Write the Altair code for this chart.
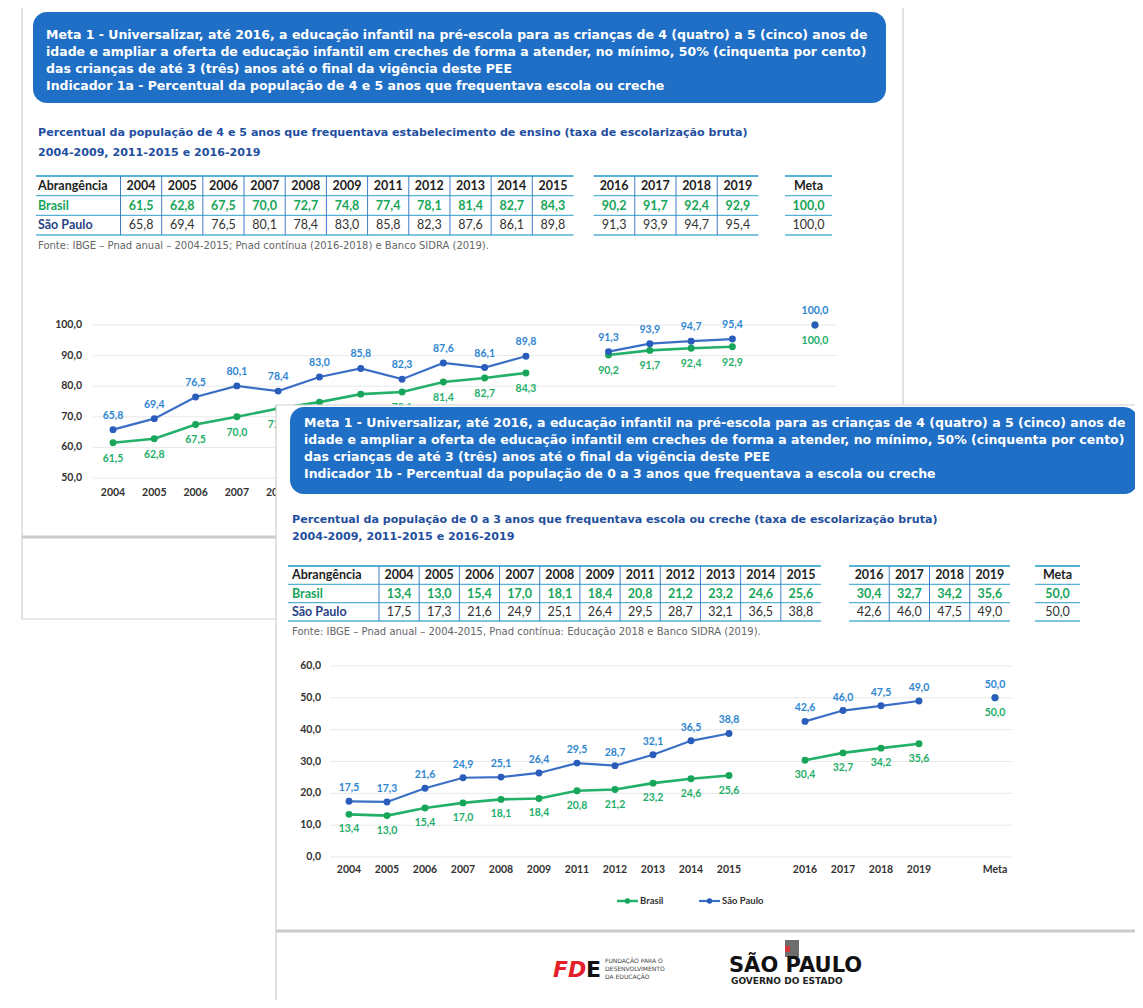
import altair as alt
import pandas as pd

# ---------------- data ----------------
YEARS_A = ["2004", "2005", "2006", "2007", "2008", "2009", "2011", "2012", "2013", "2014", "2015"]
YEARS_B = ["2016", "2017", "2018", "2019"]
META_LABEL = "Meta"
ROWS = ["Abrangência", "Brasil", "São Paulo"]

BRASIL_1A = [61.5, 62.8, 67.5, 70.0, 72.7, 74.8, 77.4, 78.1, 81.4, 82.7, 84.3, 90.2, 91.7, 92.4, 92.9]
SP_1A = [65.8, 69.4, 76.5, 80.1, 78.4, 83.0, 85.8, 82.3, 87.6, 86.1, 89.8, 91.3, 93.9, 94.7, 95.4]
META_1A = [100.0, 100.0]
TICKS_1A = [50, 60, 70, 80, 90, 100]

BRASIL_1B = [13.4, 13.0, 15.4, 17.0, 18.1, 18.4, 20.8, 21.2, 23.2, 24.6, 25.6, 30.4, 32.7, 34.2, 35.6]
SP_1B = [17.5, 17.3, 21.6, 24.9, 25.1, 26.4, 29.5, 28.7, 32.1, 36.5, 38.8, 42.6, 46.0, 47.5, 49.0]
META_1B = [50.0, 50.0]
TICKS_1B = [0, 10, 20, 30, 40, 50, 60]

HEAD_COMMON = [
    "Meta 1 - Universalizar, até 2016, a educação infantil na pré-escola para as crianças de 4 (quatro) a 5 (cinco) anos de",
    "idade e ampliar a oferta de educação infantil em creches de forma a atender, no mínimo, 50% (cinquenta por cento)",
    "das crianças de até 3 (três) anos até o final da vigência deste PEE",
]
HEAD_1A = "Indicador 1a - Percentual da população de 4 e 5 anos que frequentava escola ou creche"
HEAD_1B = "Indicador 1b - Percentual da população de 0 a 3 anos que frequentava a escola ou creche"
SUB_1A = "Percentual da população de 4 e 5 anos que frequentava estabelecimento de ensino (taxa de escolarização bruta)"
SUB_1B = "Percentual da população de 0 a 3 anos que frequentava escola ou creche (taxa de escolarização bruta)"
SUB_PERIOD = "2004-2009, 2011-2015 e 2016-2019"
FONTE_1A = "Fonte: IBGE – Pnad anual – 2004-2015; Pnad contínua (2016-2018) e Banco SIDRA (2019)."
FONTE_1B = "Fonte: IBGE – Pnad anual – 2004-2015, Pnad contínua: Educação 2018 e Banco SIDRA (2019)."

# ---------------- style ----------------
W, H = 1127, 992
HEAD_BLUE = "#1f6fc6"
TITLE_BLUE = "#1f4f9e"
GREEN_LINE = "#22b06a"
GREEN_PT = "#17a55a"
GREEN_TXT = "#1fae6a"
BLUE_LINE = "#3b6fc5"
BLUE_PT = "#2a5cbc"
BLUE_TXT = "#2f86d1"
FRAME = "#cfcfcf"
TBL_H = "#56b1d6"
TBL_V = "#3f7fc8"
F_HEAD = "DejaVu Sans"
F_TBL = "Lato"

ONE = pd.DataFrame({"k": [0]})


def px(x):
    return x - 8


def py(y):
    return y - 8


def fmt(v):
    return f"{v:.1f}".replace(".", ",")


def box(x0, y0, x1, y1, fill="white", stroke=None, sw=1, r=0):
    kw = dict(fill=fill, cornerRadius=r)
    if stroke:
        kw.update(stroke=stroke, strokeWidth=sw)
    return alt.Chart(ONE).mark_rect(**kw).encode(
        x=alt.value(px(x0)), x2=alt.value(px(x1)), y=alt.value(py(y0)), y2=alt.value(py(y1)))


def hline(x0, x1, y, color, sw=1):
    return alt.Chart(ONE).mark_rule(color=color, strokeWidth=sw).encode(
        x=alt.value(px(x0)), x2=alt.value(px(x1)), y=alt.value(py(y)))


def txt(s, x, y, size=12, color="#222", weight="normal", align="left", font=F_HEAD, style="normal"):
    return alt.Chart(ONE).mark_text(
        text=s, align=align, baseline="middle", fontSize=size, color=color,
        fontWeight=weight, font=font, fontStyle=style).encode(x=alt.value(px(x)), y=alt.value(py(y)))


def header(x0, y0, x1, y1, tx, ty, lines, size=12.5):
    layers = [box(x0, y0, x1, y1, fill=HEAD_BLUE, r=14)]
    for i, s in enumerate(lines):
        layers.append(txt(s, tx, ty + i * 17, size=size, color="white", weight="bold"))
    return layers


def table(years, br, sp, x0, x1, ytop, ybot, first_sep, label_col=None, size=12.5):
    xs = alt.Scale(type="band", domain=years, range=[px(x0), px(x1)], paddingInner=0, paddingOuter=0)
    ys = alt.Scale(type="band", domain=ROWS, range=[py(ytop), py(ybot)], paddingInner=0, paddingOuter=0)
    X = alt.X("col:O", scale=xs, axis=None)
    Y = alt.Y("row:O", scale=ys, axis=None)
    hdr = pd.DataFrame({"col": years, "row": ROWS[0], "t": years})
    dbr = pd.DataFrame({"col": years, "row": ROWS[1], "t": [fmt(v) for v in br]})
    dsp = pd.DataFrame({"col": years, "row": ROWS[2], "t": [fmt(v) for v in sp]})
    layers = []
    lx0 = label_col[0] if label_col else x0
    rh = (ybot - ytop) / 3
    for i, yy in enumerate([ytop, ytop + rh, ytop + 2 * rh, ybot]):
        layers.append(hline(lx0, x1, yy, TBL_H, 2 if i == 0 else 1.4))
    seps = years if first_sep else years[1:]
    if len(seps) > 0:
        layers.append(alt.Chart(pd.DataFrame({"col": seps})).mark_rule(color=TBL_V, strokeWidth=1).encode(
            x=alt.X("col:O", scale=xs, axis=None, bandPosition=0),
            y=alt.value(py(ytop)), y2=alt.value(py(ybot))))
    layers.append(alt.Chart(hdr).mark_text(font=F_TBL, fontSize=size, fontWeight="bold", color="#1e1e1e",
                                            baseline="middle").encode(x=X, y=Y, text="t:N"))
    layers.append(alt.Chart(dbr).mark_text(font=F_TBL, fontSize=size, fontWeight="bold", color=GREEN_PT,
                                            baseline="middle").encode(x=X, y=Y, text="t:N"))
    layers.append(alt.Chart(dsp).mark_text(font=F_TBL, fontSize=size, color="#333333",
                                            baseline="middle").encode(x=X, y=Y, text="t:N"))
    if label_col:
        lab = pd.DataFrame({"row": ROWS})
        colors = ["#1e1e1e", GREEN_PT, "#2a4386"]
        for r, c in zip(ROWS, colors):
            layers.append(alt.Chart(lab[lab.row == r]).mark_text(
                font=F_TBL, fontSize=size, fontWeight="bold", color=c, align="left", baseline="middle").encode(
                x=alt.value(px(label_col[1])), y=Y, text="row:N"))
    return layers


def line_chart(br, sp, meta, ticks, x_first, x_last, y_lo, y_hi, grid_x0, grid_x1, ylab_x, xlab_y, dlab=14):
    xdom = YEARS_A + [" "] + YEARS_B + ["  ", META_LABEL]
    xs = alt.Scale(type="point", domain=xdom, range=[px(x_first), px(x_last)], padding=0)
    ys = alt.Scale(type="linear", domain=[ticks[0], ticks[-1]], range=[py(y_lo), py(y_hi)], zero=False, nice=False)
    cats = YEARS_A + YEARS_B
    seg = ["a"] * len(YEARS_A) + ["b"] * len(YEARS_B)
    dbr = pd.DataFrame({"cat": cats + [META_LABEL], "v": br + [meta[0]], "seg": seg + ["m"]})
    dsp = pd.DataFrame({"cat": cats + [META_LABEL], "v": sp + [meta[1]], "seg": seg + ["m"]})
    for d in (dbr, dsp):
        d["lab"] = [fmt(v) for v in d["v"]]
    dt = pd.DataFrame({"t": ticks, "lab": [fmt(t) for t in ticks]})
    dc = pd.DataFrame({"cat": cats + [META_LABEL]})
    X = alt.X("cat:O", scale=xs, axis=None)
    Y = alt.Y("v:Q", scale=ys, axis=None)
    YT = alt.Y("t:Q", scale=ys, axis=None)
    layers = [
        alt.Chart(dt).mark_rule(color="#e9e9e9", strokeWidth=1).encode(
            y=YT, x=alt.value(px(grid_x0)), x2=alt.value(px(grid_x1))),
        alt.Chart(dt).mark_text(align="right", baseline="middle", font=F_TBL, fontSize=10.5, fontWeight="bold",
                                color="#333333").encode(y=YT, x=alt.value(px(ylab_x)), text="lab:N"),
        alt.Chart(dc).mark_text(align="center", baseline="middle", font=F_TBL, fontSize=10.5, fontWeight="bold",
                                color="#333333").encode(x=X, y=alt.value(py(xlab_y)), text="cat:N"),
        alt.Chart(dbr[dbr.seg != "m"]).mark_line(color=GREEN_LINE, strokeWidth=2.6).encode(x=X, y=Y, detail="seg:N"),
        alt.Chart(dsp[dsp.seg != "m"]).mark_line(color=BLUE_LINE, strokeWidth=2.2).encode(x=X, y=Y, detail="seg:N"),
        alt.Chart(dbr).mark_circle(size=48, color=GREEN_PT, opacity=1).encode(x=X, y=Y),
        alt.Chart(dsp).mark_circle(size=48, color=BLUE_PT, opacity=1).encode(x=X, y=Y),
        alt.Chart(dbr).mark_text(dy=dlab + 2, font=F_TBL, fontSize=10.5, fontWeight="bold", color=GREEN_TXT).encode(
            x=X, y=Y, text="lab:N"),
        alt.Chart(dsp).mark_text(dy=-dlab, font=F_TBL, fontSize=10.5, fontWeight="bold", color=BLUE_TXT).encode(
            x=X, y=Y, text="lab:N"),
    ]
    return layers


layers = []

# ---------------- slide 1 ----------------
layers.append(box(22, 6, 903, 619, fill="white", stroke=FRAME, sw=1.2))
layers.append(hline(22, 903, 537, "#cccccc", 3))
layers += header(33, 12, 886, 103, 46, 35, HEAD_COMMON + [HEAD_1A])
layers.append(txt(SUB_1A, 38, 133, size=11.1, color=TITLE_BLUE, weight="bold"))
layers.append(txt(SUB_PERIOD, 38, 153, size=11.1, color=TITLE_BLUE, weight="bold"))
n_a = len(YEARS_A)
layers += table(YEARS_A, BRASIL_1A[:n_a], SP_1A[:n_a], 120.5, 573.5, 176, 235, True, label_col=(36, 38))
layers += table(YEARS_B, BRASIL_1A[n_a:], SP_1A[n_a:], 593.5, 758.5, 176, 235, False)
layers += table([META_LABEL], META_1A[:1], META_1A[1:], 785, 832, 176, 235, False)
layers.append(txt(FONTE_1A, 38, 246, size=10, color="#666666"))
layers += line_chart(BRASIL_1A, SP_1A, META_1A, TICKS_1A, 113, 815, 478, 325, 93, 837, 82, 493, dlab=14)

# ---------------- slide 2 ----------------
layers.append(box(276, 405, 1160, 1020, fill="white", stroke=FRAME, sw=1.2))
layers.append(hline(276, 1143, 931, "#cccccc", 3))
layers += header(290, 407, 1138, 494, 304, 423, HEAD_COMMON + [HEAD_1B])
layers.append(txt(SUB_1B, 292, 520, size=11.1, color=TITLE_BLUE, weight="bold"))
layers.append(txt(SUB_PERIOD, 292, 537, size=11.1, color=TITLE_BLUE, weight="bold"))
layers += table(YEARS_A, BRASIL_1B[:n_a], SP_1B[:n_a], 379, 821, 566, 621, True, label_col=(288, 292))
layers += table(YEARS_B, BRASIL_1B[n_a:], SP_1B[n_a:], 849, 1010, 566, 621, False)
layers += table([META_LABEL], META_1B[:1], META_1B[1:], 1035, 1080, 566, 621, False)
layers.append(txt(FONTE_1B, 292, 632, size=10, color="#666666"))
layers += line_chart(BRASIL_1B, SP_1B, META_1B, TICKS_1B, 349, 995, 857, 666, 330, 1012, 321, 870, dlab=13)

# legend
layers.append(hline(617, 638, 901, GREEN_LINE, 2.5))
layers.append(alt.Chart(ONE).mark_circle(size=30, color=GREEN_PT, opacity=1).encode(
    x=alt.value(px(627.5)), y=alt.value(py(901))))
layers.append(txt("Brasil", 640, 901, size=9.5, color="#333333", weight="bold", font=F_TBL))
layers.append(hline(699, 720, 901, BLUE_LINE, 2.2))
layers.append(alt.Chart(ONE).mark_circle(size=30, color=BLUE_PT, opacity=1).encode(
    x=alt.value(px(709.5)), y=alt.value(py(901))))
layers.append(txt("São Paulo", 722, 901, size=9.5, color="#333333", weight="bold", font=F_TBL))

# footer logos
layers.append(txt("FD", 553, 970, size=22, color="#e3202a", weight="bold", font="DejaVu Sans", style="italic"))
layers.append(txt("E", 586, 970, size=22, color="#111111", weight="bold", font="DejaVu Sans"))
layers.append(txt("FUNDAÇÃO PARA O", 605, 961, size=6, color="#444444", font="DejaVu Sans"))
layers.append(txt("DESENVOLVIMENTO", 605, 969, size=6, color="#444444", font="DejaVu Sans"))
layers.append(txt("DA EDUCAÇÃO", 605, 977, size=6, color="#444444", font="DejaVu Sans"))
layers.append(box(785, 940, 799, 957, fill="#6d6d6d"))
layers.append(box(785, 946, 790, 952, fill="#d23a3a"))
layers.append(txt("SÃO PAULO", 729, 966, size=21, color="#111111", weight="bold", font="DejaVu Sans"))
layers.append(txt("GOVERNO DO ESTADO", 731, 981, size=9, color="#222222", weight="bold", font="DejaVu Sans"))

chart = alt.layer(*layers).resolve_scale(x="independent", y="independent").properties(
    width=W, height=H, padding=0, autosize=alt.AutoSizeParams(type="none")
).configure_view(stroke=None)

chart.save("out.html", embed_options={"renderer": "svg", "actions": False})
